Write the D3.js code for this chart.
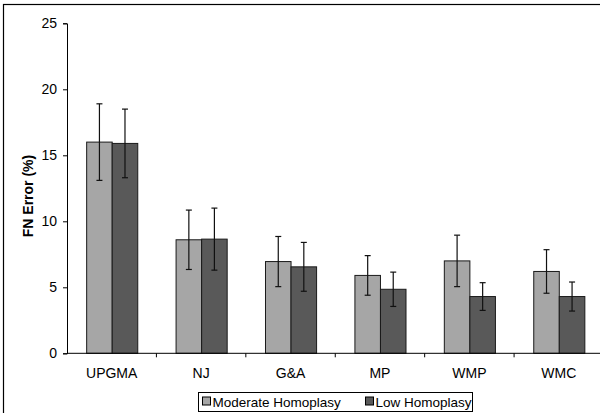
<!DOCTYPE html>
<html>
<head>
<meta charset="utf-8">
<script src="https://cdn.jsdelivr.net/npm/d3@7"></script>
<style>
  html, body { margin: 0; background: #fff; overflow: hidden; }
  svg { display: block; font-family: "Liberation Sans", Arial, sans-serif; }
</style>
</head>
<body>
<div id="chart"></div>
<script>
// FN error by method, two homoplasy levels
var categories = ["UPGMA", "NJ", "G&A", "MP", "WMP", "WMC"];
var seriesNames = ["Moderate Homoplasy", "Low Homoplasy"];
var moderate = [16.0, 8.6, 6.95, 5.9, 7.0, 6.2];
var low = [15.9, 8.65, 6.55, 4.85, 4.3, 4.3];
var moderateErr = [2.9, 2.25, 1.9, 1.5, 1.95, 1.65];
var lowErr = [2.6, 2.35, 1.85, 1.3, 1.05, 1.1];
var yTicks = [0, 5, 10, 15, 20, 25];

var width = 600, height = 413;
var colors = ["#a6a6a6", "#595959"];

var svg = d3.select("#chart").append("svg")
    .attr("width", width)
    .attr("height", height);

// outer frame (right/bottom edges fall outside the picture)
svg.append("rect")
    .attr("x", 3.5).attr("y", 4.5)
    .attr("width", 700).attr("height", 500)
    .attr("fill", "none")
    .attr("stroke", "#000")
    .attr("stroke-width", 1.2);

var x = d3.scaleBand()
    .domain(categories)
    .range([67, 603.5]);

var xs = d3.scaleBand()
    .domain(seriesNames)
    .range([0, x.bandwidth()])
    .paddingOuter(0.75);

var y = d3.scaleLinear()
    .domain([0, 25])
    .range([353.3, 23.3]);

var rows = categories.map(function (c, i) {
    return {
        cat: c,
        vals: [
            { s: seriesNames[0], v: moderate[i], e: moderateErr[i], k: 0 },
            { s: seriesNames[1], v: low[i], e: lowErr[i], k: 1 }
        ]
    };
});

// bars
var groups = svg.append("g").selectAll("g")
    .data(rows)
    .enter().append("g")
    .attr("transform", d => "translate(" + x(d.cat) + ",0)");

groups.selectAll("rect")
    .data(d => d.vals)
    .enter().append("rect")
    .attr("x", d => xs(d.s) + 0.5)
    .attr("y", d => y(d.v))
    .attr("width", xs.bandwidth())
    .attr("height", d => y(0) - y(d.v))
    .attr("fill", d => colors[d.k])
    .attr("stroke", "#1a1a1a")
    .attr("stroke-width", 1);

// error bars
var eb = groups.selectAll("g.err")
    .data(d => d.vals)
    .enter().append("g")
    .attr("class", "err")
    .attr("stroke", "#111")
    .attr("stroke-width", 1.2);

eb.append("line")
    .attr("x1", d => xs(d.s) + xs.bandwidth() / 2 + 0.5)
    .attr("x2", d => xs(d.s) + xs.bandwidth() / 2 + 0.5)
    .attr("y1", d => y(d.v + d.e))
    .attr("y2", d => y(d.v - d.e));

[1, -1].forEach(function (sgn) {
    eb.append("line")
        .attr("x1", d => xs(d.s) + xs.bandwidth() / 2 - 2.5)
        .attr("x2", d => xs(d.s) + xs.bandwidth() / 2 + 3.5)
        .attr("y1", d => y(d.v + sgn * d.e))
        .attr("y2", d => y(d.v + sgn * d.e));
});

// y axis
var yAxis = svg.append("g")
    .attr("transform", "translate(67,0)")
    .call(d3.axisLeft(y).tickValues(yTicks).tickSize(4).tickPadding(6));
yAxis.select(".domain").attr("stroke", "#000");
yAxis.selectAll("text")
    .attr("font-size", "14px")
    .attr("font-family", "Liberation Sans, Arial, sans-serif")
    .attr("fill", "#000");

// x axis
var xAxis = svg.append("g")
    .attr("transform", "translate(0," + y(0) + ")");
xAxis.append("line")
    .attr("x1", 67).attr("x2", 604)
    .attr("y1", 0).attr("y2", 0)
    .attr("stroke", "#000");
xAxis.selectAll("line.tk")
    .data(categories.slice(1))
    .enter().append("line")
    .attr("class", "tk")
    .attr("x1", d => x(d)).attr("x2", d => x(d))
    .attr("y1", 0).attr("y2", 4)
    .attr("stroke", "#000");
xAxis.selectAll("text")
    .data(categories)
    .enter().append("text")
    .attr("x", d => x(d) + x.bandwidth() / 2)
    .attr("y", 25)
    .attr("text-anchor", "middle")
    .attr("font-size", "14px")
    .text(d => d);

// y label
svg.append("text")
    .attr("transform", "translate(33,196) rotate(-90)")
    .attr("text-anchor", "middle")
    .attr("font-size", "14px")
    .attr("font-weight", 700)
    .text("FN Error (%)");

// legend
var legend = svg.append("g");
legend.append("rect")
    .attr("x", 198.5).attr("y", 392.5)
    .attr("width", 274).attr("height", 19)
    .attr("fill", "#fff")
    .attr("stroke", "#000");

var lx = [202.5, 365.5];
seriesNames.forEach(function (s, i) {
    legend.append("rect")
        .attr("x", lx[i]).attr("y", 397)
        .attr("width", 8).attr("height", 8)
        .attr("fill", colors[i])
        .attr("stroke", "#000");
    legend.append("text")
        .attr("x", lx[i] + 10)
        .attr("y", 406.5)
        .attr("font-size", "13.5px")
        .text(s);
});
</script>
</body>
</html>
